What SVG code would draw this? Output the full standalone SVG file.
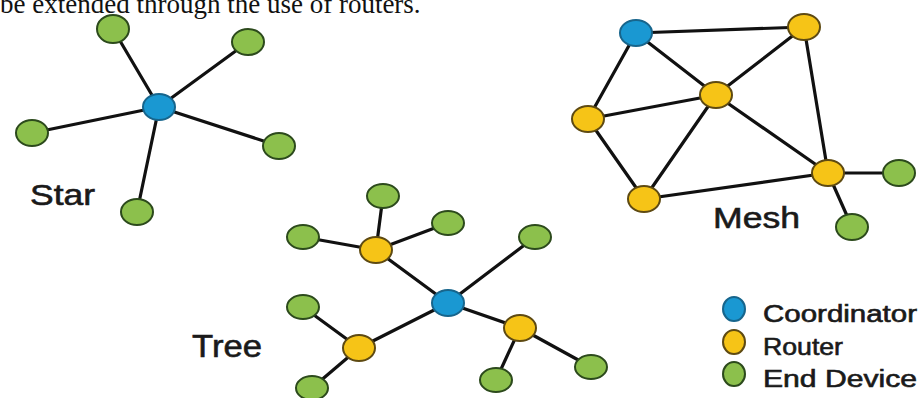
<svg xmlns="http://www.w3.org/2000/svg" width="922" height="398" viewBox="0 0 922 398">
<style>
.bg{fill:#ffffff}
.e{stroke:#111;stroke-width:3.2;stroke-linecap:round;fill:none}
.g{fill:#8cc04c;stroke:#2c4a1c;stroke-width:2}
.y{fill:#f6c417;stroke:#5e4a12;stroke-width:2}
.b{fill:#1a98d2;stroke:#17658c;stroke-width:2}
.lbl{font-family:"Liberation Sans",Arial,sans-serif;fill:#1a1a1a;stroke:#1a1a1a;stroke-width:0.6}
.top{font-family:"Liberation Serif","Times New Roman",serif;font-size:27px;fill:#111}
</style>
<rect class="bg" width="922" height="398"/>
<text class="top" x="0" y="13">be extended through the use of routers.</text>
<g id="connectors">
  <line class="e" x1="159" y1="107" x2="113" y2="29"/>
  <line class="e" x1="159" y1="107" x2="248" y2="42"/>
  <line class="e" x1="159" y1="107" x2="32" y2="133"/>
  <line class="e" x1="159" y1="107" x2="279" y2="146"/>
  <line class="e" x1="159" y1="107" x2="137" y2="212"/>
  <line class="e" x1="636" y1="33" x2="804" y2="27"/>
  <line class="e" x1="636" y1="33" x2="716" y2="95"/>
  <line class="e" x1="636" y1="33" x2="588" y2="119"/>
  <line class="e" x1="804" y1="27" x2="716" y2="95"/>
  <line class="e" x1="804" y1="27" x2="828" y2="173"/>
  <line class="e" x1="716" y1="95" x2="588" y2="119"/>
  <line class="e" x1="716" y1="95" x2="644" y2="199"/>
  <line class="e" x1="716" y1="95" x2="828" y2="173"/>
  <line class="e" x1="588" y1="119" x2="644" y2="199"/>
  <line class="e" x1="644" y1="199" x2="828" y2="173"/>
  <line class="e" x1="828" y1="173" x2="899" y2="173"/>
  <line class="e" x1="828" y1="173" x2="852" y2="227"/>
  <line class="e" x1="448" y1="303" x2="376" y2="250"/>
  <line class="e" x1="448" y1="303" x2="535" y2="237"/>
  <line class="e" x1="448" y1="303" x2="520" y2="328"/>
  <line class="e" x1="448" y1="303" x2="359" y2="348"/>
  <line class="e" x1="376" y1="250" x2="383" y2="196"/>
  <line class="e" x1="376" y1="250" x2="303" y2="237"/>
  <line class="e" x1="376" y1="250" x2="448" y2="223"/>
  <line class="e" x1="520" y1="328" x2="591" y2="367"/>
  <line class="e" x1="520" y1="328" x2="496" y2="380"/>
  <line class="e" x1="359" y1="348" x2="303" y2="307"/>
  <line class="e" x1="359" y1="348" x2="312" y2="388"/>
</g>
<g id="star-coordinator"><ellipse class="b" cx="159" cy="107" rx="16" ry="13"/></g>
<g id="star-end1"><ellipse class="g" cx="113" cy="29" rx="16" ry="14"/></g>
<g id="star-end2"><ellipse class="g" cx="248" cy="42" rx="16" ry="13"/></g>
<g id="star-end3"><ellipse class="g" cx="32" cy="133" rx="16" ry="13"/></g>
<g id="star-end4"><ellipse class="g" cx="279" cy="146" rx="16" ry="13"/></g>
<g id="star-end5"><ellipse class="g" cx="137" cy="212" rx="16" ry="13"/></g>
<g id="star-label"><text class="lbl" x="30" y="205" font-size="30" textLength="65" lengthAdjust="spacingAndGlyphs">Star</text></g>
<g id="mesh-coordinator"><ellipse class="b" cx="636" cy="33" rx="16" ry="13"/></g>
<g id="mesh-router1"><ellipse class="y" cx="804" cy="27" rx="16" ry="13"/></g>
<g id="mesh-router2"><ellipse class="y" cx="716" cy="95" rx="16" ry="13"/></g>
<g id="mesh-router3"><ellipse class="y" cx="588" cy="119" rx="16" ry="13"/></g>
<g id="mesh-router4"><ellipse class="y" cx="644" cy="199" rx="16" ry="13"/></g>
<g id="mesh-router5"><ellipse class="y" cx="828" cy="173" rx="16" ry="13"/></g>
<g id="mesh-end1"><ellipse class="g" cx="899" cy="173" rx="16" ry="13"/></g>
<g id="mesh-end2"><ellipse class="g" cx="852" cy="227" rx="16" ry="13"/></g>
<g id="mesh-label"><text class="lbl" x="713" y="228" font-size="30" textLength="87" lengthAdjust="spacingAndGlyphs">Mesh</text></g>
<g id="tree-coordinator"><ellipse class="b" cx="448" cy="303" rx="16" ry="13"/></g>
<g id="tree-router1"><ellipse class="y" cx="376" cy="250" rx="16" ry="13"/></g>
<g id="tree-router2"><ellipse class="y" cx="520" cy="328" rx="16" ry="13"/></g>
<g id="tree-router3"><ellipse class="y" cx="359" cy="348" rx="16" ry="13"/></g>
<g id="tree-end1"><ellipse class="g" cx="383" cy="196" rx="16" ry="12"/></g>
<g id="tree-end2"><ellipse class="g" cx="303" cy="237" rx="16" ry="12"/></g>
<g id="tree-end3"><ellipse class="g" cx="448" cy="223" rx="16" ry="12"/></g>
<g id="tree-end4"><ellipse class="g" cx="535" cy="237" rx="16" ry="12"/></g>
<g id="tree-end5"><ellipse class="g" cx="591" cy="367" rx="16" ry="12"/></g>
<g id="tree-end6"><ellipse class="g" cx="496" cy="380" rx="16" ry="12"/></g>
<g id="tree-end7"><ellipse class="g" cx="303" cy="307" rx="16" ry="12"/></g>
<g id="tree-end8"><ellipse class="g" cx="312" cy="388" rx="16" ry="12"/></g>
<g id="tree-label"><text class="lbl" x="192" y="357" font-size="31" textLength="70" lengthAdjust="spacingAndGlyphs">Tree</text></g>
<g id="legend-coordinator">
  <ellipse class="b" cx="734" cy="309" rx="11" ry="12"/>
  <text class="lbl" x="763" y="322" font-size="23" textLength="154" lengthAdjust="spacingAndGlyphs">Coordinator</text>
</g>
<g id="legend-router">
  <ellipse class="y" cx="734" cy="342" rx="11" ry="12"/>
  <text class="lbl" x="763" y="355" font-size="23" textLength="80" lengthAdjust="spacingAndGlyphs">Router</text>
</g>
<g id="legend-end">
  <ellipse class="g" cx="734" cy="374" rx="11" ry="12"/>
  <text class="lbl" x="763" y="387" font-size="23" textLength="154" lengthAdjust="spacingAndGlyphs">End Device</text>
</g>
</svg>
